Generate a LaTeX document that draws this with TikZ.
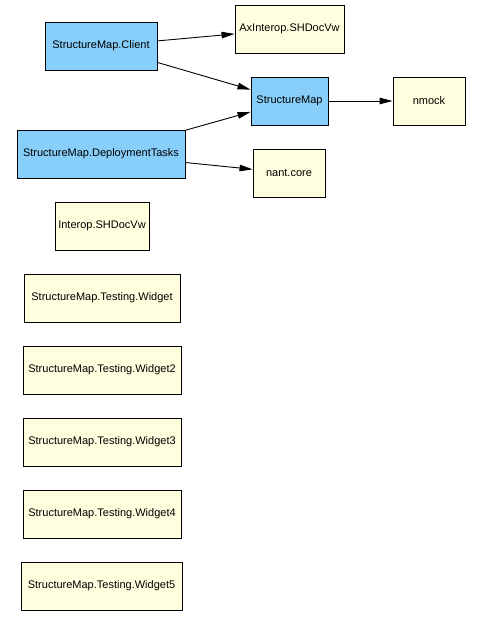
\documentclass[tikz,border=0pt]{standalone}
\usepackage{fontspec}
\setmainfont{Liberation Sans}
\usetikzlibrary{arrows.meta}
\definecolor{skyblue}{HTML}{87CEFA}
\definecolor{lightyel}{HTML}{FFFFE0}
\tikzset{
    box/.style={draw, line width=0.9pt, minimum height=48pt, inner sep=0pt, font=\fontsize{11pt}{13pt}\selectfont},
    bluebox/.style={box, fill=skyblue},
    yellowbox/.style={box, fill=lightyel},
    dep/.style={line width=0.9pt, -{Triangle[length=13pt,width=6.5pt]}}
}
\begin{document}
\begin{tikzpicture}[x=1pt,y=-1pt]
        \useasboundingbox (0,0) rectangle (481,617);
    %Nodes
        \node[bluebox, minimum width=112pt] (client) at (101,46) {StructureMap.Client};
        \node[yellowbox, minimum width=109pt] (axinterop) at (289.5,29) {AxInterop.SHDocVw};
        \node[bluebox, minimum width=77pt] (structuremap) at (289.5,101) {StructureMap};
        \node[yellowbox, minimum width=72pt] (nmock) at (429,101) {nmock};
        \node[bluebox, minimum width=168pt] (deploy) at (101,154) {StructureMap.DeploymentTasks};
        \node[yellowbox, minimum width=72pt] (nant) at (289,173) {nant.core};
        \node[yellowbox, minimum width=94pt] (interop) at (102,226) {Interop.SHDocVw};
        \node[yellowbox, minimum width=156pt] (widget) at (102,298) {StructureMap.Testing.Widget};
        \node[yellowbox, minimum width=158pt] (widgettwo) at (102,370) {StructureMap.Testing.Widget2};
        \node[yellowbox, minimum width=158pt] (widgetthree) at (102,442) {StructureMap.Testing.Widget3};
        \node[yellowbox, minimum width=158pt] (widgetfour) at (102,514) {StructureMap.Testing.Widget4};
        \node[yellowbox, minimum width=161pt] (widgetfive) at (101.5,586) {StructureMap.Testing.Widget5};
    %Edges
        \draw[dep] (client) -- (axinterop);
        \draw[dep] (client) -- (structuremap);
        \draw[dep] (deploy) -- (structuremap);
        \draw[dep] (deploy) -- (nant);
        \draw[dep] (structuremap) -- (nmock);
\end{tikzpicture}
\end{document}
